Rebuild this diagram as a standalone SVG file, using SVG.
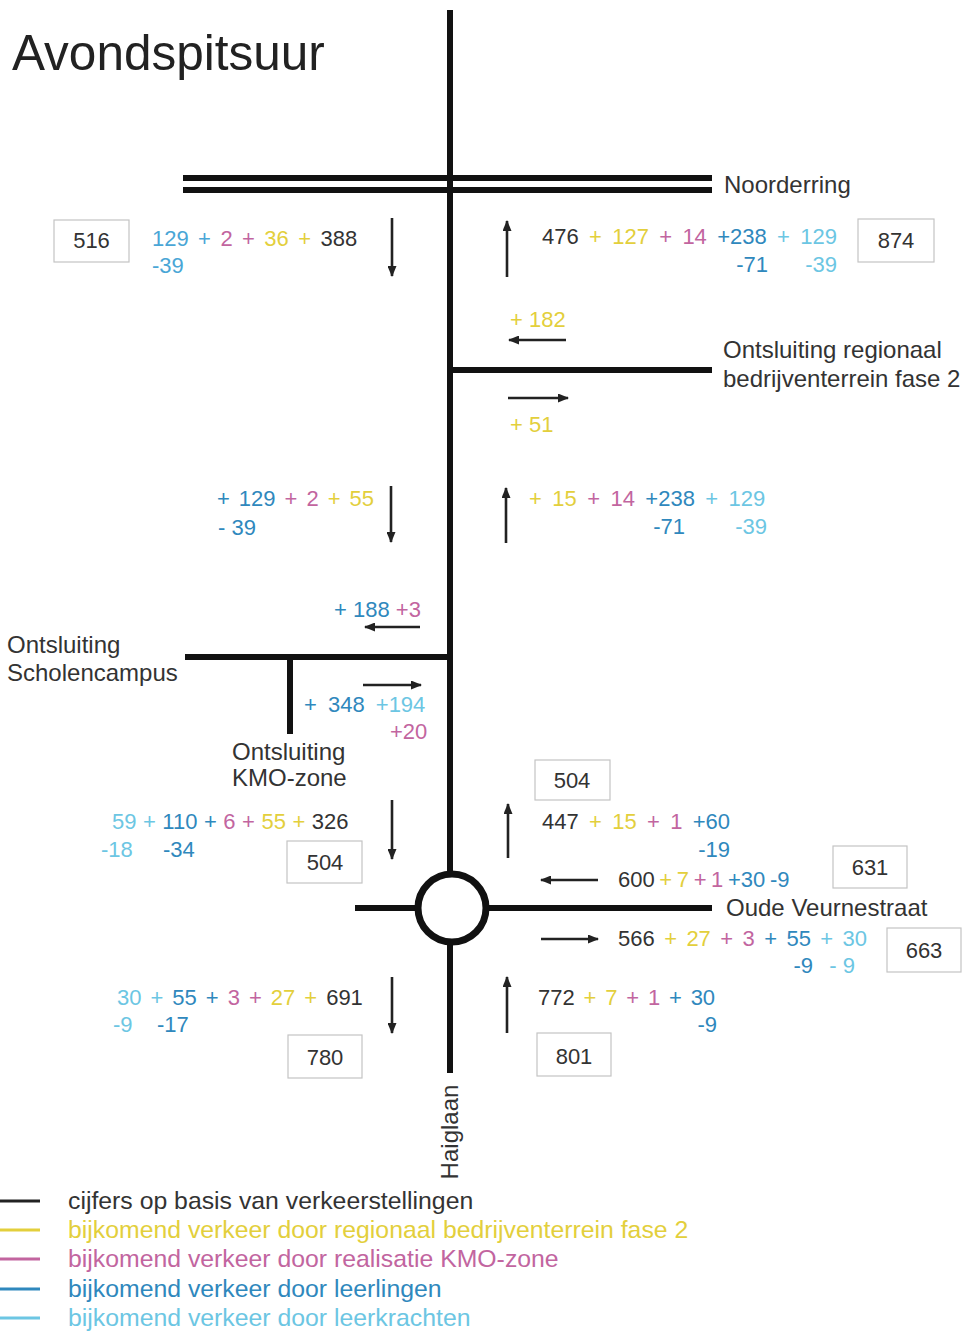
<svg xmlns="http://www.w3.org/2000/svg" width="968" height="1331" viewBox="0 0 968 1331">
<style>
text{font-family:"Liberation Sans",Arial,sans-serif;}
.n{font-size:22px;}
.lbl{font-size:24px;fill:#333;}
.lg{font-size:24.8px;}
.k{fill:#333;}
.y{fill:#e3cf3c;}
.m{fill:#c2659f;}
.b{fill:#2f88bd;}
.b2{fill:#4aa6d6;}
.c{fill:#6cc6e3;}
.box{fill:#fff;stroke:#c4c4c4;stroke-width:1.2;}
.bt{font-size:22px;fill:#333;text-anchor:middle;}
.road{stroke:#111;stroke-width:6;fill:none;}
.arr{stroke:#222;stroke-width:2.6;fill:none;marker-end:url(#ah);}
.e{text-anchor:end;}
</style>
<defs>
<marker id="ah" markerUnits="userSpaceOnUse" markerWidth="11" markerHeight="9" refX="10" refY="4.5" orient="auto">
<path d="M0,0 L11,4.5 L0,9 z" fill="#222"/>
</marker>
</defs>
<rect width="968" height="1331" fill="#fff"/>

<g id="connectors">
<line class="road" x1="450" y1="10" x2="450" y2="874"/>
<line class="road" x1="450" y1="942" x2="450" y2="1073"/>
<line class="road" x1="183" y1="178" x2="712" y2="178"/>
<line class="road" x1="183" y1="190" x2="712" y2="190"/>
<line class="road" x1="450" y1="370" x2="712" y2="370"/>
<line class="road" x1="185" y1="657" x2="450" y2="657"/>
<line class="road" x1="290" y1="657" x2="290" y2="734"/>
<line class="road" x1="355" y1="908" x2="418" y2="908"/>
<line class="road" x1="486" y1="908" x2="712" y2="908"/>
<circle cx="452" cy="908" r="34" fill="#fff" stroke="#111" stroke-width="7"/>
<line class="arr" x1="392" y1="218" x2="392" y2="276"/>
<line class="arr" x1="507" y1="277" x2="507" y2="221"/>
<line class="arr" x1="566" y1="340" x2="509" y2="340"/>
<line class="arr" x1="508" y1="398" x2="568" y2="398"/>
<line class="arr" x1="391" y1="486" x2="391" y2="542"/>
<line class="arr" x1="506" y1="543" x2="506" y2="488"/>
<line class="arr" x1="420" y1="627" x2="365" y2="627"/>
<line class="arr" x1="363" y1="685" x2="421" y2="685"/>
<line class="arr" x1="392" y1="800" x2="392" y2="859"/>
<line class="arr" x1="508" y1="858" x2="508" y2="804"/>
<line class="arr" x1="598" y1="880" x2="541" y2="880"/>
<line class="arr" x1="541" y1="939" x2="598" y2="939"/>
<line class="arr" x1="392" y1="977" x2="392" y2="1033"/>
<line class="arr" x1="507" y1="1033" x2="507" y2="977"/>
</g>

<g id="title"><text x="12" y="70" font-size="49.5" fill="#222">Avondspitsuur</text></g>

<g id="label-noorderring"><text class="lbl" x="724" y="193">Noorderring</text></g>
<g id="label-regionaal"><text class="lbl" x="723" y="358">Ontsluiting regionaal</text><text class="lbl" x="723" y="387">bedrijventerrein fase 2</text></g>
<g id="label-scholencampus"><text class="lbl" x="7" y="653">Ontsluiting</text><text class="lbl" x="7" y="681">Scholencampus</text></g>
<g id="label-kmo"><text class="lbl" x="232" y="760">Ontsluiting</text><text class="lbl" x="232" y="786">KMO-zone</text></g>
<g id="label-oudeveurne"><text class="lbl" x="726" y="916">Oude Veurnestraat</text></g>
<g id="label-haiglaan"><text class="lbl" x="458" y="1132" text-anchor="middle" transform="rotate(-90 458 1132)">Haiglaan</text></g>

<g id="box-516"><rect class="box" x="54" y="220" width="75" height="42"/><text class="bt" x="91.5" y="248">516</text></g>
<g id="box-874"><rect class="box" x="858" y="219" width="76" height="43"/><text class="bt" x="896" y="248">874</text></g>
<g id="box-504a"><rect class="box" x="287" y="841" width="75" height="42"/><text class="bt" x="325" y="870">504</text></g>
<g id="box-504b"><rect class="box" x="535" y="760" width="75" height="40"/><text class="bt" x="572" y="788">504</text></g>
<g id="box-631"><rect class="box" x="833" y="846" width="74" height="42"/><text class="bt" x="870" y="875">631</text></g>
<g id="box-663"><rect class="box" x="887" y="928" width="74" height="44"/><text class="bt" x="924" y="958">663</text></g>
<g id="box-780"><rect class="box" x="288" y="1035" width="74" height="43"/><text class="bt" x="325" y="1065">780</text></g>
<g id="box-801"><rect class="box" x="537" y="1033" width="74" height="43"/><text class="bt" x="574" y="1064">801</text></g>

<g id="flow-a-left">
<text class="n" x="152" y="246" word-spacing="3.3"><tspan class="b2">129 + </tspan><tspan class="m">2 + </tspan><tspan class="y">36 + </tspan><tspan class="k">388</tspan></text>
<text class="n b2" x="152" y="273">-39</text>
</g>
<g id="flow-a-right">
<text class="n" x="542" y="244" word-spacing="4.2"><tspan class="k">476 </tspan><tspan class="y">+ 127 </tspan><tspan class="m">+ 14 </tspan><tspan class="b">+238 </tspan><tspan class="c">+ 129</tspan></text>
<text class="n b e" x="768" y="272">-71</text>
<text class="n c e" x="837" y="272">-39</text>
</g>
<g id="flow-regionaal">
<text class="n y" x="510" y="327">+ 182</text>
<text class="n y" x="510" y="432">+ 51</text>
</g>
<g id="flow-b-left">
<text class="n" x="217" y="506" word-spacing="2.9"><tspan class="b">+ 129 </tspan><tspan class="m">+ 2 </tspan><tspan class="y">+ 55</tspan></text>
<text class="n b" x="218" y="535">- 39</text>
</g>
<g id="flow-b-right">
<text class="n" x="529" y="506" word-spacing="4.3"><tspan class="y">+ 15 </tspan><tspan class="m">+ 14 </tspan><tspan class="b">+238 </tspan><tspan class="c">+ 129</tspan></text>
<text class="n b e" x="685" y="534">-71</text>
<text class="n c e" x="767" y="534">-39</text>
</g>
<g id="flow-scholen">
<text class="n" x="334" y="617"><tspan class="b">+ 188 </tspan><tspan class="m">+3</tspan></text>
<text class="n" x="304" y="712" word-spacing="5"><tspan class="b">+ 348 </tspan><tspan class="c">+194</tspan></text>
<text class="n m" x="390" y="739">+20</text>
</g>
<g id="flow-c-left">
<text class="n" x="112" y="829" word-spacing="0.4"><tspan class="c">59 + </tspan><tspan class="b">110 + </tspan><tspan class="m">6 + </tspan><tspan class="y">55 + </tspan><tspan class="k">326</tspan></text>
<text class="n c" x="101" y="857">-18</text>
<text class="n b" x="163" y="857">-34</text>
</g>
<g id="flow-d-right">
<text class="n" x="542" y="829" word-spacing="4.2"><tspan class="k">447 </tspan><tspan class="y">+ 15 </tspan><tspan class="m">+ 1 </tspan><tspan class="b">+60</tspan></text>
<text class="n b e" x="730" y="857">-19</text>
</g>
<g id="flow-e-right">
<text class="n" x="618" y="887" word-spacing="-1.5"><tspan class="k">600 </tspan><tspan class="y">+ 7 </tspan><tspan class="m">+ 1 </tspan><tspan class="b">+30 -9</tspan></text>
</g>
<g id="flow-f-right">
<text class="n" x="618" y="946" word-spacing="3.3"><tspan class="k">566 </tspan><tspan class="y">+ 27 </tspan><tspan class="m">+ 3 </tspan><tspan class="b">+ 55 </tspan><tspan class="c">+ 30</tspan></text>
<text class="n b e" x="813" y="973">-9</text>
<text class="n c e" x="855" y="973">- 9</text>
</g>
<g id="flow-g-left">
<text class="n" x="117" y="1005" word-spacing="2.9"><tspan class="c">30 + </tspan><tspan class="b">55 + </tspan><tspan class="m">3 + </tspan><tspan class="y">27 + </tspan><tspan class="k">691</tspan></text>
<text class="n c" x="113" y="1032">-9</text>
<text class="n b" x="157" y="1032">-17</text>
</g>
<g id="flow-h-right">
<text class="n" x="538" y="1005" word-spacing="2.7"><tspan class="k">772 </tspan><tspan class="y">+ 7 </tspan><tspan class="m">+ 1 </tspan><tspan class="b">+ 30</tspan></text>
<text class="n b e" x="717" y="1032">-9</text>
</g>

<g id="legend">
<line x1="0" y1="1201" x2="40" y2="1201" stroke="#222" stroke-width="3"/>
<line x1="0" y1="1230" x2="40" y2="1230" stroke="#e3cf3c" stroke-width="3"/>
<line x1="0" y1="1259" x2="40" y2="1259" stroke="#c2659f" stroke-width="3"/>
<line x1="0" y1="1289" x2="40" y2="1289" stroke="#2f88bd" stroke-width="3"/>
<line x1="0" y1="1318" x2="40" y2="1318" stroke="#6cc6e3" stroke-width="3"/>
<text class="lg k" x="68" y="1209">cijfers op basis van verkeerstellingen</text>
<text class="lg y" x="68" y="1238">bijkomend verkeer door regionaal bedrijventerrein fase 2</text>
<text class="lg m" x="68" y="1267">bijkomend verkeer door realisatie KMO-zone</text>
<text class="lg b" x="68" y="1297">bijkomend verkeer door leerlingen</text>
<text class="lg c" x="68" y="1326">bijkomend verkeer door leerkrachten</text>
</g>
</svg>
